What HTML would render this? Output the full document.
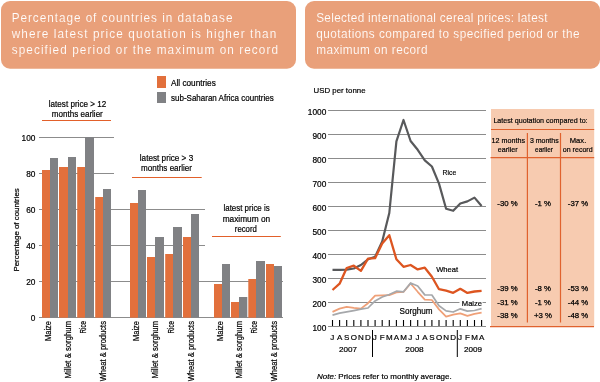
<!DOCTYPE html>
<html><head><meta charset="utf-8"><style>
html,body{margin:0;padding:0;background:#fff;}
#w{will-change:transform;position:relative;width:600px;height:382px;overflow:hidden;background:#fff;}
svg{display:block;font-family:"Liberation Sans", sans-serif;}
text{-webkit-font-smoothing:antialiased;}
</style></head><body><div id="w">
<svg width="600" height="382" viewBox="0 0 600 382">
<rect x="1" y="1" width="295" height="67.7" rx="9" ry="9" fill="#E9A07A"/>
<rect x="305" y="1" width="295" height="67.7" rx="9" ry="9" fill="#E9A07A"/>
<text transform="translate(11.7,21.9) scale(0.95,1)" font-size="12.4" fill="#fff" stroke="#E9A07A" stroke-width="0.12" textLength="232.42" lengthAdjust="spacing">Percentage of countries in database</text>
<text transform="translate(11.7,37.8) scale(0.95,1)" font-size="12.4" fill="#fff" stroke="#E9A07A" stroke-width="0.12" textLength="278.53" lengthAdjust="spacing">where latest price quotation is higher than</text>
<text transform="translate(11.7,54.1) scale(0.95,1)" font-size="12.4" fill="#fff" stroke="#E9A07A" stroke-width="0.12" textLength="280.32" lengthAdjust="spacing">specified period or the maximum on record</text>
<text transform="translate(316.2,21.9) scale(0.95,1)" font-size="12.4" fill="#fff" stroke="#E9A07A" stroke-width="0.12" textLength="243.47" lengthAdjust="spacing">Selected international cereal prices: latest</text>
<text transform="translate(316.2,37.8) scale(0.95,1)" font-size="12.4" fill="#fff" stroke="#E9A07A" stroke-width="0.12" textLength="277.16" lengthAdjust="spacing">quotations compared to specified period or the</text>
<text transform="translate(316.2,54.1) scale(0.95,1)" font-size="12.4" fill="#fff" stroke="#E9A07A" stroke-width="0.12" textLength="117.16" lengthAdjust="spacing">maximum on record</text>
<line x1="39" y1="137.5" x2="114" y2="137.5" stroke="#8C8C8C" stroke-width="1"/>
<text x="35.4" y="140.9" font-size="8.3" text-anchor="end" fill="#000" stroke="#000" stroke-width="0.2" >100</text>
<line x1="39" y1="173.5" x2="114" y2="173.5" stroke="#8C8C8C" stroke-width="1"/>
<text x="35.4" y="176.9" font-size="8.3" text-anchor="end" fill="#000" stroke="#000" stroke-width="0.2" >80</text>
<line x1="39" y1="209.5" x2="205" y2="209.5" stroke="#8C8C8C" stroke-width="1"/>
<text x="35.4" y="212.9" font-size="8.3" text-anchor="end" fill="#000" stroke="#000" stroke-width="0.2" >60</text>
<line x1="39" y1="245.5" x2="205" y2="245.5" stroke="#8C8C8C" stroke-width="1"/>
<text x="35.4" y="248.9" font-size="8.3" text-anchor="end" fill="#000" stroke="#000" stroke-width="0.2" >40</text>
<line x1="39" y1="281.5" x2="283" y2="281.5" stroke="#8C8C8C" stroke-width="1"/>
<text x="35.4" y="284.9" font-size="8.3" text-anchor="end" fill="#000" stroke="#000" stroke-width="0.2" >20</text>
<line x1="39" y1="317.5" x2="283" y2="317.5" stroke="#8C8C8C" stroke-width="1"/>
<text x="35.4" y="320.9" font-size="8.3" text-anchor="end" fill="#000" stroke="#000" stroke-width="0.2" >0</text>
<rect x="42" y="170" width="8" height="147.7" fill="#E2703C"/>
<rect x="50" y="158" width="8" height="159.7" fill="#808184"/>
<rect x="59" y="167" width="9" height="150.7" fill="#E2703C"/>
<rect x="68" y="157" width="8" height="160.7" fill="#808184"/>
<rect x="77.2" y="167" width="7.799999999999997" height="150.7" fill="#E2703C"/>
<rect x="85" y="137" width="9" height="180.7" fill="#808184"/>
<rect x="95.2" y="197" width="7.799999999999997" height="120.69999999999999" fill="#E2703C"/>
<rect x="103" y="189" width="8" height="128.7" fill="#808184"/>
<rect x="130" y="203" width="8" height="114.69999999999999" fill="#E2703C"/>
<rect x="138" y="190" width="8" height="127.69999999999999" fill="#808184"/>
<rect x="147" y="257" width="8" height="60.69999999999999" fill="#E2703C"/>
<rect x="155" y="237" width="9" height="80.69999999999999" fill="#808184"/>
<rect x="165.2" y="254" width="7.800000000000011" height="63.69999999999999" fill="#E2703C"/>
<rect x="173" y="227" width="9" height="90.69999999999999" fill="#808184"/>
<rect x="183" y="237" width="8" height="80.69999999999999" fill="#E2703C"/>
<rect x="191" y="214" width="8" height="103.69999999999999" fill="#808184"/>
<rect x="214" y="284" width="8" height="33.69999999999999" fill="#E2703C"/>
<rect x="222" y="264" width="8" height="53.69999999999999" fill="#808184"/>
<rect x="231" y="302" width="8" height="15.699999999999989" fill="#E2703C"/>
<rect x="239" y="297" width="8.300000000000011" height="20.69999999999999" fill="#808184"/>
<rect x="248.3" y="279" width="7.699999999999989" height="38.69999999999999" fill="#E2703C"/>
<rect x="256" y="261" width="9" height="56.69999999999999" fill="#808184"/>
<rect x="266" y="264" width="8" height="53.69999999999999" fill="#E2703C"/>
<rect x="274" y="266" width="8" height="51.69999999999999" fill="#808184"/>
<text transform="translate(18.9,271.6) rotate(-90)" font-size="8" fill="#000" stroke="#000" stroke-width="0.2" textLength="83.4" lengthAdjust="spacingAndGlyphs">Percentage of countries</text>
<text transform="translate(51.3,321) rotate(-90)" font-size="8.4" text-anchor="end" fill="#000" stroke="#000" stroke-width="0.2" textLength="20" lengthAdjust="spacingAndGlyphs">Maize</text>
<text transform="translate(70.6,321) rotate(-90)" font-size="8.4" text-anchor="end" fill="#000" stroke="#000" stroke-width="0.2" textLength="57.5" lengthAdjust="spacingAndGlyphs">Millet &amp; sorghum</text>
<text transform="translate(86.2,321) rotate(-90)" font-size="8.4" text-anchor="end" fill="#000" stroke="#000" stroke-width="0.2" textLength="12.4" lengthAdjust="spacingAndGlyphs">Rice</text>
<text transform="translate(105.8,321) rotate(-90)" font-size="8.4" text-anchor="end" fill="#000" stroke="#000" stroke-width="0.2" textLength="60.3" lengthAdjust="spacingAndGlyphs">Wheat &amp; products</text>
<text transform="translate(139.3,321) rotate(-90)" font-size="8.4" text-anchor="end" fill="#000" stroke="#000" stroke-width="0.2" textLength="20" lengthAdjust="spacingAndGlyphs">Maize</text>
<text transform="translate(157.6,321) rotate(-90)" font-size="8.4" text-anchor="end" fill="#000" stroke="#000" stroke-width="0.2" textLength="57.5" lengthAdjust="spacingAndGlyphs">Millet &amp; sorghum</text>
<text transform="translate(174.2,321) rotate(-90)" font-size="8.4" text-anchor="end" fill="#000" stroke="#000" stroke-width="0.2" textLength="12.4" lengthAdjust="spacingAndGlyphs">Rice</text>
<text transform="translate(193.8,321) rotate(-90)" font-size="8.4" text-anchor="end" fill="#000" stroke="#000" stroke-width="0.2" textLength="60.3" lengthAdjust="spacingAndGlyphs">Wheat &amp; products</text>
<text transform="translate(223.3,321) rotate(-90)" font-size="8.4" text-anchor="end" fill="#000" stroke="#000" stroke-width="0.2" textLength="20" lengthAdjust="spacingAndGlyphs">Maize</text>
<text transform="translate(241.6,321) rotate(-90)" font-size="8.4" text-anchor="end" fill="#000" stroke="#000" stroke-width="0.2" textLength="57.5" lengthAdjust="spacingAndGlyphs">Millet &amp; sorghum</text>
<text transform="translate(257.2,321) rotate(-90)" font-size="8.4" text-anchor="end" fill="#000" stroke="#000" stroke-width="0.2" textLength="12.4" lengthAdjust="spacingAndGlyphs">Rice</text>
<text transform="translate(276.8,321) rotate(-90)" font-size="8.4" text-anchor="end" fill="#000" stroke="#000" stroke-width="0.2" textLength="60.3" lengthAdjust="spacingAndGlyphs">Wheat &amp; products</text>
<text x="77.5" y="106.8" font-size="9" text-anchor="middle" fill="#000" stroke="#000" stroke-width="0.2" textLength="57.4" lengthAdjust="spacingAndGlyphs" >latest price &gt; 12</text>
<text x="77.3" y="117" font-size="9" text-anchor="middle" fill="#000" stroke="#000" stroke-width="0.2" textLength="51" lengthAdjust="spacingAndGlyphs" >months earlier</text>
<line x1="42" y1="120.5" x2="111" y2="120.5" stroke="#E2602A" stroke-width="1.2"/>
<text x="166.5" y="160.7" font-size="9" text-anchor="middle" fill="#000" stroke="#000" stroke-width="0.2" textLength="53.4" lengthAdjust="spacingAndGlyphs" >latest price &gt; 3</text>
<text x="166.5" y="170.5" font-size="9" text-anchor="middle" fill="#000" stroke="#000" stroke-width="0.2" textLength="51" lengthAdjust="spacingAndGlyphs" >months earlier</text>
<line x1="132" y1="177.5" x2="201.7" y2="177.5" stroke="#E2602A" stroke-width="1.2"/>
<text x="246.6" y="210.9" font-size="9" text-anchor="middle" fill="#000" stroke="#000" stroke-width="0.2" textLength="46.2" lengthAdjust="spacingAndGlyphs" >latest price is</text>
<text x="246.4" y="221.9" font-size="9" text-anchor="middle" fill="#000" stroke="#000" stroke-width="0.2" textLength="47.5" lengthAdjust="spacingAndGlyphs" >maximum on</text>
<text x="245.8" y="231.8" font-size="9" text-anchor="middle" fill="#000" stroke="#000" stroke-width="0.2" textLength="22" lengthAdjust="spacingAndGlyphs" >record</text>
<line x1="212" y1="236.5" x2="280.8" y2="236.5" stroke="#E2602A" stroke-width="1.2"/>
<rect x="157" y="76" width="9" height="12" fill="#E2703C"/>
<rect x="157" y="92" width="9" height="11" fill="#808184"/>
<text x="171" y="86.2" font-size="8.6" text-anchor="start" fill="#000" stroke="#000" stroke-width="0.2" textLength="44.8" lengthAdjust="spacingAndGlyphs" >All countries</text>
<text x="171" y="101.2" font-size="8.6" text-anchor="start" fill="#000" stroke="#000" stroke-width="0.2" textLength="102.7" lengthAdjust="spacingAndGlyphs" >sub-Saharan Africa countries</text>
<line x1="328" y1="326.5" x2="486" y2="326.5" stroke="#8C8C8C" stroke-width="1"/>
<text x="326.3" y="331.1" font-size="8.3" text-anchor="end" fill="#000" stroke="#000" stroke-width="0.2" >100</text>
<line x1="328" y1="302.5" x2="486" y2="302.5" stroke="#8C8C8C" stroke-width="1"/>
<text x="326.3" y="307.1" font-size="8.3" text-anchor="end" fill="#000" stroke="#000" stroke-width="0.2" >200</text>
<line x1="328" y1="278.5" x2="486" y2="278.5" stroke="#8C8C8C" stroke-width="1"/>
<text x="326.3" y="283.1" font-size="8.3" text-anchor="end" fill="#000" stroke="#000" stroke-width="0.2" >300</text>
<line x1="328" y1="254.5" x2="486" y2="254.5" stroke="#8C8C8C" stroke-width="1"/>
<text x="326.3" y="259.1" font-size="8.3" text-anchor="end" fill="#000" stroke="#000" stroke-width="0.2" >400</text>
<line x1="328" y1="230.5" x2="486" y2="230.5" stroke="#8C8C8C" stroke-width="1"/>
<text x="326.3" y="235.1" font-size="8.3" text-anchor="end" fill="#000" stroke="#000" stroke-width="0.2" >500</text>
<line x1="328" y1="206.5" x2="486" y2="206.5" stroke="#8C8C8C" stroke-width="1"/>
<text x="326.3" y="211.1" font-size="8.3" text-anchor="end" fill="#000" stroke="#000" stroke-width="0.2" >600</text>
<line x1="328" y1="182.5" x2="486" y2="182.5" stroke="#8C8C8C" stroke-width="1"/>
<text x="326.3" y="187.1" font-size="8.3" text-anchor="end" fill="#000" stroke="#000" stroke-width="0.2" >700</text>
<line x1="328" y1="158.5" x2="486" y2="158.5" stroke="#8C8C8C" stroke-width="1"/>
<text x="326.3" y="163.1" font-size="8.3" text-anchor="end" fill="#000" stroke="#000" stroke-width="0.2" >800</text>
<line x1="328" y1="134.5" x2="486" y2="134.5" stroke="#8C8C8C" stroke-width="1"/>
<text x="326.3" y="139.1" font-size="8.3" text-anchor="end" fill="#000" stroke="#000" stroke-width="0.2" >900</text>
<line x1="328" y1="110.5" x2="486" y2="110.5" stroke="#8C8C8C" stroke-width="1"/>
<text x="326.3" y="115.1" font-size="8.3" text-anchor="end" fill="#000" stroke="#000" stroke-width="0.2" >1000</text>
<text x="313.6" y="92.9" font-size="8" text-anchor="start" fill="#000" stroke="#000" stroke-width="0.2" textLength="51.9" lengthAdjust="spacingAndGlyphs" >USD per tonne</text>
<line x1="332.5" y1="320" x2="332.5" y2="326" stroke="#000" stroke-width="1.1"/>
<line x1="339.6" y1="320" x2="339.6" y2="326" stroke="#000" stroke-width="1.1"/>
<line x1="346.7" y1="320" x2="346.7" y2="326" stroke="#000" stroke-width="1.1"/>
<line x1="353.8" y1="320" x2="353.8" y2="326" stroke="#000" stroke-width="1.1"/>
<line x1="360.9" y1="320" x2="360.9" y2="326" stroke="#000" stroke-width="1.1"/>
<line x1="368.0" y1="320" x2="368.0" y2="326" stroke="#000" stroke-width="1.1"/>
<line x1="375.1" y1="320" x2="375.1" y2="326" stroke="#000" stroke-width="1.1"/>
<line x1="382.2" y1="320" x2="382.2" y2="326" stroke="#000" stroke-width="1.1"/>
<line x1="389.3" y1="320" x2="389.3" y2="326" stroke="#000" stroke-width="1.1"/>
<line x1="396.4" y1="320" x2="396.4" y2="326" stroke="#000" stroke-width="1.1"/>
<line x1="403.5" y1="320" x2="403.5" y2="326" stroke="#000" stroke-width="1.1"/>
<line x1="410.6" y1="320" x2="410.6" y2="326" stroke="#000" stroke-width="1.1"/>
<line x1="417.7" y1="320" x2="417.7" y2="326" stroke="#000" stroke-width="1.1"/>
<line x1="424.8" y1="320" x2="424.8" y2="326" stroke="#000" stroke-width="1.1"/>
<line x1="431.9" y1="320" x2="431.9" y2="326" stroke="#000" stroke-width="1.1"/>
<line x1="439.0" y1="320" x2="439.0" y2="326" stroke="#000" stroke-width="1.1"/>
<line x1="446.1" y1="320" x2="446.1" y2="326" stroke="#000" stroke-width="1.1"/>
<line x1="453.2" y1="320" x2="453.2" y2="326" stroke="#000" stroke-width="1.1"/>
<line x1="460.3" y1="320" x2="460.3" y2="326" stroke="#000" stroke-width="1.1"/>
<line x1="467.4" y1="320" x2="467.4" y2="326" stroke="#000" stroke-width="1.1"/>
<line x1="474.5" y1="320" x2="474.5" y2="326" stroke="#000" stroke-width="1.1"/>
<line x1="481.6" y1="320" x2="481.6" y2="326" stroke="#000" stroke-width="1.1"/>
<polyline points="332.5,311.9 339.6,308.6 346.7,306.8 353.8,307.9 360.9,308.6 368.0,303.2 375.1,295.6 382.2,295.4 389.3,295.2 396.4,292.5 403.5,292.0 410.6,283.5 417.7,291.8 424.8,299.6 431.9,300.0 439.0,309.4 446.1,316.7 453.2,314.6 460.3,313.3 467.4,315.8 474.5,313.8 481.6,312.7" fill="none" stroke="#EFA078" stroke-width="1.75" stroke-linejoin="round"/>
<polyline points="332.5,315.1 339.6,313.2 346.7,311.9 353.8,310.6 360.9,309.2 368.0,308.0 375.1,300.9 382.2,297.0 389.3,294.5 396.4,291.2 403.5,291.8 410.6,283.0 417.7,286.0 424.8,294.9 431.9,295.0 439.0,305.7 446.1,310.9 453.2,312.0 460.3,308.8 467.4,311.2 474.5,310.5 481.6,308.6" fill="none" stroke="#A6A8AB" stroke-width="1.75" stroke-linejoin="round"/>
<polyline points="332.5,269.8 339.6,269.8 346.7,269.6 353.8,268.5 360.9,265.0 368.0,259.3 375.1,256.8 382.2,241.5 389.3,213.0 396.4,141.4 403.5,120.0 410.6,141.0 417.7,149.8 424.8,160.3 431.9,166.5 439.0,183.6 446.1,208.7 453.2,210.8 460.3,203.5 467.4,201.4 474.5,197.6 481.6,206.0" fill="none" stroke="#58595B" stroke-width="2.2" stroke-linejoin="round"/>
<polyline points="332.5,290.0 339.6,283.7 346.7,268.0 353.8,265.7 360.9,270.9 368.0,258.6 375.1,258.2 382.2,243.6 389.3,235.2 396.4,259.3 403.5,266.8 410.6,265.0 417.7,269.4 424.8,267.7 431.9,276.8 439.0,289.2 446.1,290.7 453.2,292.8 460.3,288.8 467.4,292.9 474.5,291.5 481.6,290.9" fill="none" stroke="#DD5520" stroke-width="2.3" stroke-linejoin="round"/>
<text x="442.6" y="174.5" font-size="8" text-anchor="start" fill="#000" stroke="#000" stroke-width="0.2" textLength="13.6" lengthAdjust="spacingAndGlyphs" >Rice</text>
<text x="436.2" y="271.7" font-size="8" text-anchor="start" fill="#000" stroke="#000" stroke-width="0.2" textLength="22" lengthAdjust="spacingAndGlyphs" >Wheat</text>
<rect x="459.5" y="298" width="23" height="9" fill="#fff"/>
<text x="461.8" y="305.8" font-size="8" text-anchor="start" fill="#000" stroke="#000" stroke-width="0.2" textLength="20.3" lengthAdjust="spacingAndGlyphs" >Maize</text>
<text x="399.6" y="314" font-size="8.2" text-anchor="start" fill="#000" stroke="#000" stroke-width="0.2" textLength="33" lengthAdjust="spacingAndGlyphs" >Sorghum</text>
<text x="332.2" y="339.8" font-size="8" text-anchor="middle" fill="#000" stroke="#000" stroke-width="0.2" >J</text>
<text x="339.6" y="339.8" font-size="8" text-anchor="middle" fill="#000" stroke="#000" stroke-width="0.2" >A</text>
<text x="346.7" y="339.8" font-size="8" text-anchor="middle" fill="#000" stroke="#000" stroke-width="0.2" >S</text>
<text x="353.8" y="339.8" font-size="8" text-anchor="middle" fill="#000" stroke="#000" stroke-width="0.2" >O</text>
<text x="360.9" y="339.8" font-size="8" text-anchor="middle" fill="#000" stroke="#000" stroke-width="0.2" >N</text>
<text x="368.0" y="339.8" font-size="8" text-anchor="middle" fill="#000" stroke="#000" stroke-width="0.2" >D</text>
<text x="374.8" y="339.8" font-size="8" text-anchor="middle" fill="#000" stroke="#000" stroke-width="0.2" >J</text>
<text x="382.2" y="339.8" font-size="8" text-anchor="middle" fill="#000" stroke="#000" stroke-width="0.2" >F</text>
<text x="389.3" y="339.8" font-size="8" text-anchor="middle" fill="#000" stroke="#000" stroke-width="0.2" >M</text>
<text x="396.4" y="339.8" font-size="8" text-anchor="middle" fill="#000" stroke="#000" stroke-width="0.2" >A</text>
<text x="403.5" y="339.8" font-size="8" text-anchor="middle" fill="#000" stroke="#000" stroke-width="0.2" >M</text>
<text x="410.3" y="339.8" font-size="8" text-anchor="middle" fill="#000" stroke="#000" stroke-width="0.2" >J</text>
<text x="417.4" y="339.8" font-size="8" text-anchor="middle" fill="#000" stroke="#000" stroke-width="0.2" >J</text>
<text x="424.8" y="339.8" font-size="8" text-anchor="middle" fill="#000" stroke="#000" stroke-width="0.2" >A</text>
<text x="431.9" y="339.8" font-size="8" text-anchor="middle" fill="#000" stroke="#000" stroke-width="0.2" >S</text>
<text x="439.0" y="339.8" font-size="8" text-anchor="middle" fill="#000" stroke="#000" stroke-width="0.2" >O</text>
<text x="446.1" y="339.8" font-size="8" text-anchor="middle" fill="#000" stroke="#000" stroke-width="0.2" >N</text>
<text x="453.2" y="339.8" font-size="8" text-anchor="middle" fill="#000" stroke="#000" stroke-width="0.2" >D</text>
<text x="460.0" y="339.8" font-size="8" text-anchor="middle" fill="#000" stroke="#000" stroke-width="0.2" >J</text>
<text x="467.4" y="339.8" font-size="8" text-anchor="middle" fill="#000" stroke="#000" stroke-width="0.2" >F</text>
<text x="474.5" y="339.8" font-size="8" text-anchor="middle" fill="#000" stroke="#000" stroke-width="0.2" >M</text>
<text x="481.6" y="339.8" font-size="8" text-anchor="middle" fill="#000" stroke="#000" stroke-width="0.2" >A</text>
<line x1="372.5" y1="330" x2="372.5" y2="357" stroke="#000" stroke-width="1"/>
<line x1="457.3" y1="330" x2="457.3" y2="357" stroke="#000" stroke-width="1"/>
<text x="348" y="352" font-size="8" text-anchor="middle" fill="#000" stroke="#000" stroke-width="0.2" textLength="18" lengthAdjust="spacingAndGlyphs" >2007</text>
<text x="414.5" y="352" font-size="8" text-anchor="middle" fill="#000" stroke="#000" stroke-width="0.2" textLength="18.4" lengthAdjust="spacingAndGlyphs" >2008</text>
<text x="473" y="352" font-size="8" text-anchor="middle" fill="#000" stroke="#000" stroke-width="0.2" textLength="18" lengthAdjust="spacingAndGlyphs" >2009</text>
<rect x="491" y="109" width="103.2" height="217.5" fill="#F7CBB0"/>
<line x1="491" y1="129.5" x2="594.2" y2="129.5" stroke="#E0622E" stroke-width="1.2"/>
<line x1="490.5" y1="157.7" x2="594.2" y2="157.7" stroke="#E0622E" stroke-width="1.2"/>
<line x1="490" y1="326.6" x2="594" y2="326.6" stroke="#E0622E" stroke-width="1.4"/>
<line x1="527.4" y1="133" x2="527.4" y2="322.5" stroke="#E0622E" stroke-width="1.2"/>
<line x1="560.5" y1="133" x2="560.5" y2="322.5" stroke="#E0622E" stroke-width="1.2"/>
<text x="493.4" y="123.2" font-size="8" text-anchor="start" fill="#000" stroke="#000" stroke-width="0.2" textLength="94.2" lengthAdjust="spacingAndGlyphs" >Latest quotation compared to:</text>
<text x="508.3" y="143" font-size="8" text-anchor="middle" fill="#000" stroke="#000" stroke-width="0.2" textLength="33.4" lengthAdjust="spacingAndGlyphs" >12 months</text>
<text x="507.7" y="152" font-size="8" text-anchor="middle" fill="#000" stroke="#000" stroke-width="0.2" textLength="19.8" lengthAdjust="spacingAndGlyphs" >earlier</text>
<text x="544.3" y="142.8" font-size="8" text-anchor="middle" fill="#000" stroke="#000" stroke-width="0.2" textLength="28.8" lengthAdjust="spacingAndGlyphs" >3 months</text>
<text x="544" y="151.7" font-size="8" text-anchor="middle" fill="#000" stroke="#000" stroke-width="0.2" textLength="17.8" lengthAdjust="spacingAndGlyphs" >earlier</text>
<text x="578" y="143" font-size="8" text-anchor="middle" fill="#000" stroke="#000" stroke-width="0.2" textLength="16.5" lengthAdjust="spacingAndGlyphs" >Max.</text>
<text x="577.7" y="152" font-size="8" text-anchor="middle" fill="#000" stroke="#000" stroke-width="0.2" textLength="29.8" lengthAdjust="spacingAndGlyphs" >on record</text>
<text x="507.5" y="205.8" font-size="7.8" text-anchor="middle" fill="#000" stroke="#000" stroke-width="0.25">-30 %</text>
<text x="543" y="205.8" font-size="7.8" text-anchor="middle" fill="#000" stroke="#000" stroke-width="0.25">-1 %</text>
<text x="578" y="205.8" font-size="7.8" text-anchor="middle" fill="#000" stroke="#000" stroke-width="0.25">-37 %</text>
<text x="507.5" y="290.7" font-size="7.8" text-anchor="middle" fill="#000" stroke="#000" stroke-width="0.25">-39 %</text>
<text x="543" y="290.7" font-size="7.8" text-anchor="middle" fill="#000" stroke="#000" stroke-width="0.25">-8 %</text>
<text x="578" y="290.7" font-size="7.8" text-anchor="middle" fill="#000" stroke="#000" stroke-width="0.25">-53 %</text>
<text x="507.5" y="304.9" font-size="7.8" text-anchor="middle" fill="#000" stroke="#000" stroke-width="0.25">-31 %</text>
<text x="543" y="304.9" font-size="7.8" text-anchor="middle" fill="#000" stroke="#000" stroke-width="0.25">-1 %</text>
<text x="578" y="304.9" font-size="7.8" text-anchor="middle" fill="#000" stroke="#000" stroke-width="0.25">-44 %</text>
<text x="507.5" y="317.6" font-size="7.8" text-anchor="middle" fill="#000" stroke="#000" stroke-width="0.25">-38 %</text>
<text x="543" y="317.6" font-size="7.8" text-anchor="middle" fill="#000" stroke="#000" stroke-width="0.25">+3 %</text>
<text x="578" y="317.6" font-size="7.8" text-anchor="middle" fill="#000" stroke="#000" stroke-width="0.25">-48 %</text>
<text x="317" y="378.5" font-size="8" fill="#000" stroke="#000" stroke-width="0.2"><tspan font-style="italic">Note:</tspan> Prices refer to monthly average.</text>
</svg></div></body></html>
